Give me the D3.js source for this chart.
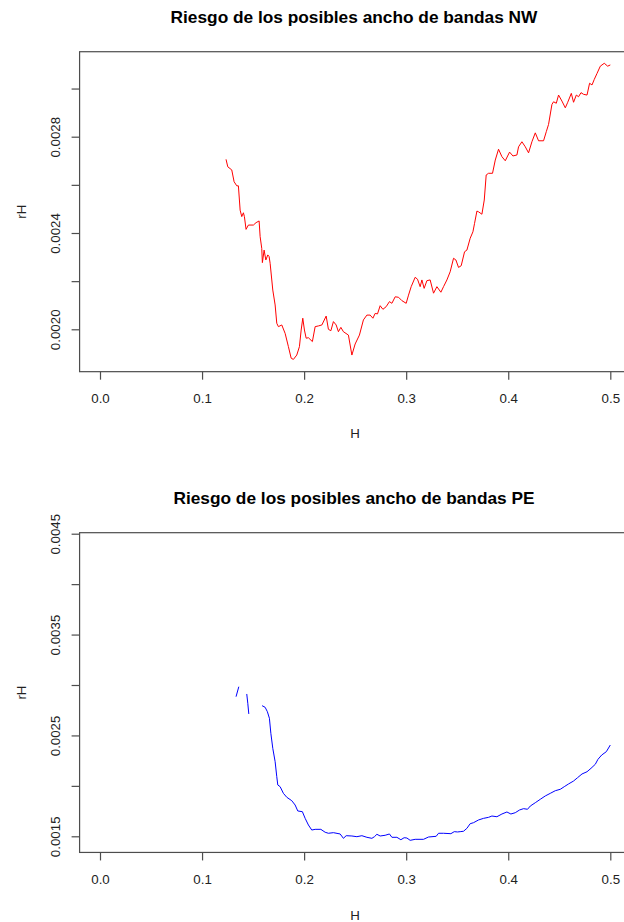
<!DOCTYPE html>
<html>
<head>
<meta charset="utf-8">
<script src="https://cdn.jsdelivr.net/npm/d3@7"></script>
<style>
  html, body { margin: 0; padding: 0; background: #fff; }
  svg { display: block; font-family: "Liberation Sans", Arial, sans-serif; }
</style>
</head>
<body>
<svg id="chart" width="624" height="922"></svg>
<script>
// ---------------- data ----------------
const titleNW = "Riesgo de los posibles ancho de bandas NW";
const titlePE = "Riesgo de los posibles ancho de bandas PE";
const xLabel = "H";
const yLabel = "rH";

const xTicks = [0.0, 0.1, 0.2, 0.3, 0.4, 0.5];
const xTickLabels = ["0.0", "0.1", "0.2", "0.3", "0.4", "0.5"];

const yTicksNW = [0.0020, 0.0022, 0.0024, 0.0026, 0.0028, 0.0030];
const yTickLabelsNW = ["0.0020", "", "0.0024", "", "0.0028", ""];

const yTicksPE = [0.0015, 0.0020, 0.0025, 0.0030, 0.0035, 0.0040, 0.0045];
const yTickLabelsPE = ["0.0015", "", "0.0025", "", "0.0035", "", "0.0045"];

// Nadaraya-Watson risk
const nwH = [0.1235,0.1252,0.1291,0.1314,0.1340,0.1356,0.1373,0.1389,0.1405,0.1415,
  0.1431,0.1454,0.1503,0.1529,0.1559,0.1569,0.1585,0.1591,0.1608,0.1625,
  0.1644,0.1657,0.1667,0.1693,0.1716,0.1732,0.1748,0.1781,0.1814,0.1846,
  0.1873,0.1895,0.1928,0.1954,0.1971,0.1987,0.2003,0.2020,0.2042,0.2081,
  0.2108,0.2140,0.2174,0.2216,0.2238,0.2262,0.2287,0.2314,0.2336,0.2360,
  0.2385,0.2434,0.2468,0.2500,0.2542,0.2581,0.2615,0.2647,0.2674,0.2696,
  0.2719,0.2745,0.2772,0.2804,0.2836,0.2860,0.2892,0.2925,0.2958,0.3000,
  0.3023,0.3049,0.3088,0.3111,0.3137,0.3154,0.3176,0.3203,0.3235,0.3268,
  0.3301,0.3340,0.3366,0.3399,0.3431,0.3464,0.3487,0.3513,0.3539,0.3572,
  0.3595,0.3627,0.3654,0.3670,0.3693,0.3709,0.3742,0.3765,0.3784,0.3807,
  0.3846,0.3873,0.3905,0.3938,0.3971,0.4013,0.4046,0.4085,0.4101,0.4134,
  0.4167,0.4199,0.4232,0.4265,0.4297,0.4346,0.4373,0.4395,0.4428,0.4444,
  0.4471,0.4493,0.4526,0.4559,0.4581,0.4618,0.4640,0.4667,0.4689,0.4713,
  0.4738,0.4772,0.4797,0.4821,0.4843,0.4870,0.4902,0.4941,0.4974,0.5000];
const nwRisk = [0.002706,0.002675,0.002662,0.002613,0.002596,0.002596,0.002495,0.002468,0.002484,0.002468,
  0.002415,0.002433,0.002433,0.002443,0.002450,0.002385,0.002336,0.002277,0.002329,0.002288,
  0.002309,0.002302,0.002274,0.002163,0.002101,0.002025,0.002011,0.002018,0.001983,0.001928,
  0.001880,0.001875,0.001893,0.001928,0.001997,0.002046,0.001997,0.001963,0.001965,0.001949,
  0.002011,0.002014,0.002018,0.002055,0.002000,0.001994,0.002032,0.002018,0.001990,0.002008,
  0.001990,0.001976,0.001893,0.001939,0.001976,0.002039,0.002059,0.002059,0.002046,0.002066,
  0.002064,0.002098,0.002083,0.002094,0.002115,0.002108,0.002135,0.002133,0.002119,0.002108,
  0.002142,0.002177,0.002216,0.002208,0.002177,0.002205,0.002170,0.002202,0.002205,0.002150,
  0.002177,0.002154,0.002177,0.002205,0.002239,0.002295,0.002288,0.002257,0.002264,0.002322,
  0.002329,0.002378,0.002405,0.002440,0.002491,0.002488,0.002478,0.002537,0.002641,0.002648,
  0.002648,0.002703,0.002748,0.002717,0.002700,0.002736,0.002720,0.002724,0.002758,0.002779,
  0.002758,0.002733,0.002779,0.002816,0.002783,0.002783,0.002821,0.002851,0.002934,0.002945,
  0.002939,0.002973,0.002948,0.002920,0.002941,0.002980,0.002943,0.002973,0.002966,0.002983,
  0.002976,0.002973,0.003022,0.003015,0.003038,0.003063,0.003093,0.003105,0.003093,0.003098];

// Priestley-Chao risk (null = missing value, leaves a gap)
const peH = [0.1333,0.1360,0.1399,0.1438,0.1448,0.1458,0.1520,
  0.1588,0.1618,0.1640,0.1660,0.1674,0.1693,0.1716,0.1732,0.1742,0.1765,
  0.1797,0.1830,0.1879,0.1912,0.1938,0.1983,0.2010,0.2042,0.2075,0.2108,
  0.2164,0.2206,0.2238,0.2287,0.2353,0.2385,0.2412,0.2468,0.2517,0.2566,
  0.2615,0.2664,0.2689,0.2713,0.2745,0.2794,0.2836,0.2860,0.2909,0.2948,
  0.2980,0.3007,0.3039,0.3088,0.3170,0.3219,0.3294,0.3317,0.3366,0.3438,
  0.3471,0.3503,0.3529,0.3562,0.3595,0.3627,0.3660,0.3709,0.3758,0.3807,
  0.3840,0.3889,0.3938,0.3987,0.4026,0.4069,0.4111,0.4150,0.4189,0.4216,
  0.4265,0.4314,0.4363,0.4412,0.4461,0.4510,0.4549,0.4591,0.4640,0.4679,
  0.4723,0.4772,0.4811,0.4853,0.4879,0.4916,0.4961,0.5000];
const peRisk = [0.002884,0.002983,null,0.002911,0.002819,0.002713,null,
  0.002795,0.002779,0.002735,0.002670,0.002521,0.002372,0.002240,0.002091,0.002009,0.001992,
  0.001926,0.001887,0.001853,0.001810,0.001751,0.001744,0.001678,0.001612,0.001562,0.001569,
  0.001569,0.001540,0.001530,0.001536,0.001523,0.001480,0.001506,0.001503,0.001496,0.001506,
  0.001490,0.001480,0.001496,0.001520,0.001503,0.001510,0.001523,0.001490,0.001490,0.001466,
  0.001486,0.001483,0.001460,0.001470,0.001470,0.001493,0.001500,0.001530,0.001530,0.001526,
  0.001546,0.001543,0.001546,0.001550,0.001579,0.001625,0.001635,0.001662,0.001678,0.001688,
  0.001701,0.001694,0.001721,0.001741,0.001721,0.001734,0.001761,0.001774,0.001768,0.001800,
  0.001833,0.001867,0.001900,0.001926,0.001952,0.001966,0.001992,0.002019,0.002048,0.002081,
  0.002118,0.002140,0.002174,0.002214,0.002263,0.002306,0.002339,0.002405];

// ---------------- drawing ----------------
const svg = d3.select("#chart");
const axisColor = "#4d4d4d";
const tickFont = 13.3;

// shared x scale (R: xlim 0..0.5, extended by 4%)
const x = d3.scaleLinear().domain([0, 0.5]).range([100, 610.3]);
const xLo = -0.02, xHi = 0.52;

function panel(opts) {
  const g = svg.append("g");
  const y = d3.scaleLinear().domain(opts.yRefDomain).range(opts.yRefRange);
  const top = y(opts.yLim[1]), bottom = y(opts.yLim[0]);
  const left = x(xLo), right = x(xHi);

  // title
  g.append("text")
    .attr("x", 354)
    .attr("y", opts.titleY)
    .attr("text-anchor", "middle")
    .attr("font-weight", "bold")
    .attr("font-size", 17.3)
    .attr("fill", "#000")
    .text(opts.title);

  // data line
  const pts = opts.xs.map((h, i) => ({h: h, r: opts.ys[i]}));
  const clipId = "clip" + opts.id;
  g.append("clipPath").attr("id", clipId)
    .append("rect").attr("x", left).attr("y", top)
    .attr("width", right - left).attr("height", bottom - top);
  g.append("path")
    .datum(pts)
    .attr("clip-path", `url(#${clipId})`)
    .attr("fill", "none")
    .attr("stroke", opts.color)
    .attr("stroke-width", 1)
    .attr("d", d3.line().defined(d => d.r !== null).x(d => x(d.h)).y(d => y(d.r)));

  // box
  g.append("rect")
    .attr("x", left).attr("y", top)
    .attr("width", right - left).attr("height", bottom - top)
    .attr("fill", "none").attr("stroke", axisColor).attr("stroke-width", 1.2);

  // x axis
  const xa = g.append("g").attr("transform", `translate(0,${bottom})`)
    .call(d3.axisBottom(x).tickValues(xTicks)
      .tickFormat((d, i) => xTickLabels[i]).tickSize(8).tickPadding(14));
  xa.select(".domain").remove();
  xa.selectAll("line").attr("stroke", axisColor).attr("stroke-width", 1.2);
  xa.selectAll("text").attr("font-size", tickFont).attr("fill", "#222")
    .attr("font-family", '"Liberation Sans", Arial, sans-serif');

  // y axis
  const ya = g.append("g").attr("transform", `translate(${left},0)`)
    .call(d3.axisLeft(y).tickValues(opts.yTicks)
      .tickFormat((d, i) => opts.yTickLabels[i]).tickSize(8));
  ya.select(".domain").remove();
  ya.selectAll("line").attr("stroke", axisColor).attr("stroke-width", 1.2);
  ya.selectAll("text")
    .attr("font-size", tickFont).attr("fill", "#222")
    .attr("font-family", '"Liberation Sans", Arial, sans-serif')
    .attr("x", null).attr("dy", null)
    .attr("text-anchor", "middle")
    .attr("transform", "translate(-20,0) rotate(-90)");

  // axis labels
  g.append("text")
    .attr("x", (left + right) / 2)
    .attr("y", opts.xLabelY)
    .attr("text-anchor", "middle")
    .attr("font-size", tickFont).attr("fill", "#222")
    .text(xLabel);
  g.append("text")
    .attr("transform", `translate(26,${(top + bottom) / 2}) rotate(-90)`)
    .attr("text-anchor", "middle")
    .attr("font-size", tickFont).attr("fill", "#222")
    .text(yLabel);
}

panel({
  id: "nw", title: titleNW, color: "#ff0000",
  xs: nwH, ys: nwRisk,
  yRefDomain: [0.0020, 0.0028], yRefRange: [329.3, 136.7],
  yLim: [0.001824, 0.003153],
  yTicks: yTicksNW, yTickLabels: yTickLabelsNW,
  titleY: 23.3, xLabelY: 438.3
});

panel({
  id: "pe", title: titlePE, color: "#0000ff",
  xs: peH, ys: peRisk,
  yRefDomain: [0.0015, 0.0045], yRefRange: [836.3, 533.7],
  yLim: [0.00134, 0.00451],
  yTicks: yTicksPE, yTickLabels: yTickLabelsPE,
  titleY: 504.3, xLabelY: 920
});
</script>
</body>
</html>
